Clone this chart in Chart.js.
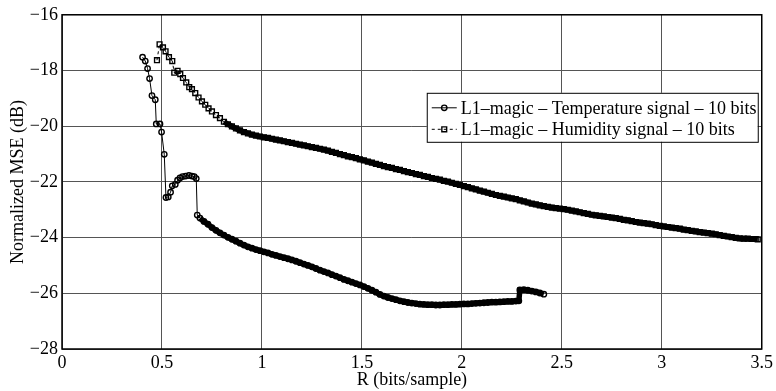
<!DOCTYPE html>
<html>
<head>
<meta charset="utf-8">
<script src="https://cdn.jsdelivr.net/npm/chart.js@4.4.0/dist/chart.umd.min.js"></script>
<style>
  html, body { margin: 0; padding: 0; background: #fff; }
  #wrap { width: 776px; height: 391px; }
</style>
</head>
<body>
<div id="wrap"><canvas id="mseChart"></canvas></div>
<script>
// Temperature signal, 10 bits (rate in bits/sample, normalized MSE in dB)
const tempRate = [
  0.403, 0.4165, 0.428, 0.438, 0.450, 0.4665, 0.4715, 0.490, 0.498, 0.5115,
  0.520, 0.5315, 0.543, 0.5515, 0.5665, 0.578, 0.590, 0.603, 0.618, 0.635,
  0.650, 0.6615, 0.6715, 0.6765, 0.69, 0.71, 0.73, 0.75, 0.77, 0.79,
  0.81, 0.83, 0.85, 0.87, 0.89, 0.91, 0.93, 0.95, 0.97, 0.99,
  1.01, 1.03, 1.05, 1.07, 1.09, 1.11, 1.13, 1.15, 1.17, 1.19,
  1.21, 1.23, 1.25, 1.27, 1.29, 1.31, 1.33, 1.35, 1.37, 1.39,
  1.41, 1.43, 1.45, 1.47, 1.49, 1.51, 1.53, 1.55, 1.57, 1.59,
  1.61, 1.63, 1.65, 1.67, 1.69, 1.71, 1.73, 1.75, 1.77, 1.79,
  1.81, 1.83, 1.85, 1.87, 1.89, 1.91, 1.93, 1.95, 1.97, 1.99,
  2.01, 2.03, 2.05, 2.07, 2.09, 2.11, 2.13, 2.15, 2.17, 2.19,
  2.21, 2.23, 2.25, 2.27, 2.285, 2.29, 2.31, 2.33, 2.35, 2.37,
  2.39, 2.41
];
const tempMse = [
  -17.52, -17.66, -17.93, -18.29, -18.90, -19.05, -19.92, -19.92, -20.21, -21.01,
  -22.56, -22.54, -22.37, -22.14, -22.09, -21.94, -21.86, -21.81, -21.79, -21.77,
  -21.79, -21.81, -21.88, -23.19, -23.30, -23.42, -23.52, -23.64, -23.74, -23.83,
  -23.91, -23.99, -24.06, -24.13, -24.20, -24.27, -24.33, -24.38, -24.43, -24.47,
  -24.51, -24.55, -24.60, -24.64, -24.68, -24.72, -24.76, -24.80, -24.85, -24.90,
  -24.95, -25.00, -25.05, -25.11, -25.17, -25.22, -25.27, -25.33, -25.38, -25.44,
  -25.50, -25.55, -25.60, -25.65, -25.70, -25.76, -25.82, -25.89, -25.96, -26.04,
  -26.10, -26.15, -26.19, -26.23, -26.27, -26.30, -26.33, -26.35, -26.37, -26.39,
  -26.40, -26.41, -26.41, -26.42, -26.42, -26.41, -26.41, -26.40, -26.40, -26.39,
  -26.38, -26.38, -26.37, -26.36, -26.35, -26.34, -26.33, -26.32, -26.32, -26.31,
  -26.30, -26.29, -26.29, -26.28, -26.27, -25.88, -25.87, -25.89, -25.92, -25.95,
  -25.99, -26.03
];

// Humidity signal, 10 bits
const humRate = [
  0.475, 0.488, 0.505, 0.518, 0.535, 0.5515, 0.5615, 0.578, 0.5915, 0.605,
  0.6215, 0.6365, 0.650, 0.6665, 0.683, 0.700, 0.7165, 0.733, 0.750, 0.770,
  0.79, 0.81, 0.83, 0.85, 0.87, 0.89, 0.91, 0.93, 0.95, 0.97,
  0.99, 1.01, 1.03, 1.05, 1.07, 1.09, 1.11, 1.13, 1.15, 1.17,
  1.19, 1.21, 1.23, 1.25, 1.27, 1.29, 1.31, 1.33, 1.35, 1.37,
  1.39, 1.41, 1.43, 1.45, 1.47, 1.49, 1.51, 1.53, 1.55, 1.57,
  1.59, 1.61, 1.63, 1.65, 1.67, 1.69, 1.71, 1.73, 1.75, 1.77,
  1.79, 1.81, 1.83, 1.85, 1.87, 1.89, 1.91, 1.93, 1.95, 1.97,
  1.99, 2.01, 2.03, 2.05, 2.07, 2.09, 2.11, 2.13, 2.15, 2.17,
  2.19, 2.21, 2.23, 2.25, 2.27, 2.29, 2.31, 2.33, 2.35, 2.37,
  2.39, 2.41, 2.43, 2.45, 2.47, 2.49, 2.51, 2.53, 2.55, 2.57,
  2.59, 2.61, 2.63, 2.65, 2.67, 2.69, 2.71, 2.73, 2.75, 2.77,
  2.79, 2.81, 2.83, 2.85, 2.87, 2.89, 2.91, 2.93, 2.95, 2.97,
  2.99, 3.01, 3.03, 3.05, 3.07, 3.09, 3.11, 3.13, 3.15, 3.17,
  3.19, 3.21, 3.23, 3.25, 3.27, 3.29, 3.31, 3.33, 3.35, 3.37,
  3.39, 3.41, 3.43, 3.45, 3.47, 3.48
];
const humMse = [
  -17.63, -17.06, -17.17, -17.31, -17.52, -17.66, -18.08, -18.01, -18.13, -18.27,
  -18.43, -18.60, -18.67, -18.81, -18.97, -19.11, -19.23, -19.36, -19.47, -19.60,
  -19.71, -19.84, -19.93, -20.01, -20.08, -20.15, -20.21, -20.26, -20.30, -20.34,
  -20.37, -20.40, -20.42, -20.45, -20.48, -20.51, -20.54, -20.57, -20.60, -20.63,
  -20.66, -20.69, -20.72, -20.75, -20.78, -20.81, -20.84, -20.88, -20.92, -20.96,
  -21.00, -21.04, -21.08, -21.11, -21.15, -21.19, -21.23, -21.27, -21.31, -21.35,
  -21.39, -21.43, -21.47, -21.50, -21.54, -21.57, -21.61, -21.65, -21.68, -21.72,
  -21.75, -21.79, -21.82, -21.86, -21.89, -21.92, -21.96, -21.99, -22.03, -22.07,
  -22.11, -22.15, -22.19, -22.23, -22.27, -22.31, -22.35, -22.39, -22.43, -22.47,
  -22.50, -22.53, -22.56, -22.59, -22.62, -22.66, -22.70, -22.74, -22.78, -22.81,
  -22.84, -22.87, -22.90, -22.92, -22.94, -22.96, -22.98, -23.00, -23.03, -23.06,
  -23.09, -23.12, -23.15, -23.18, -23.20, -23.22, -23.24, -23.26, -23.28, -23.30,
  -23.33, -23.36, -23.38, -23.41, -23.44, -23.46, -23.48, -23.50, -23.52, -23.55,
  -23.58, -23.60, -23.62, -23.64, -23.66, -23.68, -23.71, -23.73, -23.76, -23.78,
  -23.80, -23.82, -23.84, -23.86, -23.88, -23.91, -23.94, -23.96, -23.98, -24.01,
  -24.03, -24.04, -24.04, -24.05, -24.05, -24.06
];

const seriesLabels = [
  'L1\u2013magic \u2013 Temperature signal \u2013 10 bits',
  'L1\u2013magic \u2013 Humidity signal \u2013 10 bits'
];

// where the markers pile up into a solid band
const tempDenseFrom = 0.69;
const humDenseFrom = 0.80;

const serif = '"Liberation Serif", "Times New Roman", serif';
const toPoints = (xs, ys) => xs.map((x, i) => ({ x: x, y: ys[i] }));
const withMinus = v => String(v).replace('-', '\u2212');

function drawMarker(ctx, style, r, x, y) {
  ctx.beginPath();
  if (style === 'rect') {
    const s = r * Math.SQRT1_2;
    ctx.rect(x - s, y - s, 2 * s, 2 * s);
  } else {
    ctx.arc(x, y, r, 0, Math.PI * 2);
  }
  ctx.stroke();
}

// box around the axes plus the legend inside the plot
const frameAndLegend = {
  id: 'frameAndLegend',
  afterDatasetsDraw(chart) {
    const { ctx, chartArea: a } = chart;
    ctx.save();
    ctx.strokeStyle = '#000';
    ctx.lineWidth = 1.5;
    ctx.strokeRect(a.left, a.top, a.right - a.left, a.bottom - a.top);

    const bx = a.right - 335, by = a.top + 78, bw = 331, bh = 49;
    ctx.fillStyle = '#fff';
    ctx.fillRect(bx, by, bw, bh);
    ctx.lineWidth = 1;
    ctx.strokeRect(bx + 0.5, by + 0.5, bw, bh);

    ctx.font = '18px ' + serif;
    ctx.textBaseline = 'middle';
    chart.data.datasets.forEach((ds, i) => {
      const y = by + 15 + i * 21.5;
      ctx.lineWidth = 1;
      ctx.setLineDash(ds.borderDash || []);
      ctx.beginPath();
      ctx.moveTo(bx + 5, y);
      ctx.lineTo(bx + 30, y);
      ctx.stroke();
      ctx.setLineDash([]);
      ctx.lineWidth = ds.pointBorderWidth;
      drawMarker(ctx, ds.pointStyle, ds.pointRadius, bx + 17.5, y);
      ctx.fillStyle = '#000';
      ctx.fillText(ds.label, bx + 34, y + 1);
    });
    ctx.restore();
  }
};

const tickFont = { family: serif, size: 18 };

new Chart(document.getElementById('mseChart'), {
  type: 'line',
  data: {
    datasets: [
      {
        label: seriesLabels[0],
        data: toPoints(tempRate, tempMse),
        borderColor: '#000',
        borderWidth: 1,
        segment: {
          borderWidth: c => (c.p0.parsed.x >= tempDenseFrom ? 5.5 : 1)
        },
        pointStyle: 'circle',
        pointRadius: 2.7,
        pointBorderWidth: 1.4,
        pointBorderColor: '#000',
        pointBackgroundColor: 'rgba(255,255,255,0)',
        tension: 0
      },
      {
        label: seriesLabels[1],
        data: toPoints(humRate, humMse),
        borderColor: '#000',
        borderWidth: 1,
        borderDash: [3, 3],
        segment: {
          borderWidth: c => (c.p0.parsed.x >= humDenseFrom ? 5.5 : 1),
          borderDash: c => (c.p0.parsed.x >= humDenseFrom ? [] : [3, 3])
        },
        pointStyle: 'rect',
        pointRadius: 3.4,
        pointBorderWidth: 1.4,
        pointBorderColor: '#000',
        pointBackgroundColor: 'rgba(255,255,255,0)',
        tension: 0
      }
    ]
  },
  options: {
    responsive: true,
    maintainAspectRatio: false,
    animation: false,
    layout: { padding: { top: 6, right: 14, left: 0, bottom: 0 } },
    plugins: {
      legend: { display: false },
      tooltip: { enabled: false }
    },
    scales: {
      x: {
        type: 'linear',
        min: 0,
        max: 3.5,
        ticks: {
          stepSize: 0.5,
          padding: 3,
          color: '#000',
          font: tickFont,
          maxRotation: 0,
          callback: v => String(v)
        },
        grid: { color: '#555', lineWidth: 1, drawTicks: false },
        border: { display: false },
        title: {
          display: true,
          text: 'R (bits/sample)',
          color: '#000',
          font: tickFont,
          padding: { top: 0, bottom: 0 }
        },
        afterFit: s => { s.height = 42; }
      },
      y: {
        min: -28,
        max: -16,
        ticks: {
          stepSize: 2,
          padding: 4,
          color: '#000',
          font: tickFont,
          callback: v => withMinus(v)
        },
        grid: { color: '#555', lineWidth: 1, drawTicks: false },
        border: { display: false },
        title: {
          display: true,
          text: 'Normalized MSE (dB)',
          color: '#000',
          font: tickFont,
          padding: { top: 7, bottom: 0 }
        },
        afterFit: s => { s.width = 62; }
      }
    }
  },
  plugins: [frameAndLegend]
});
</script>
</body>
</html>
